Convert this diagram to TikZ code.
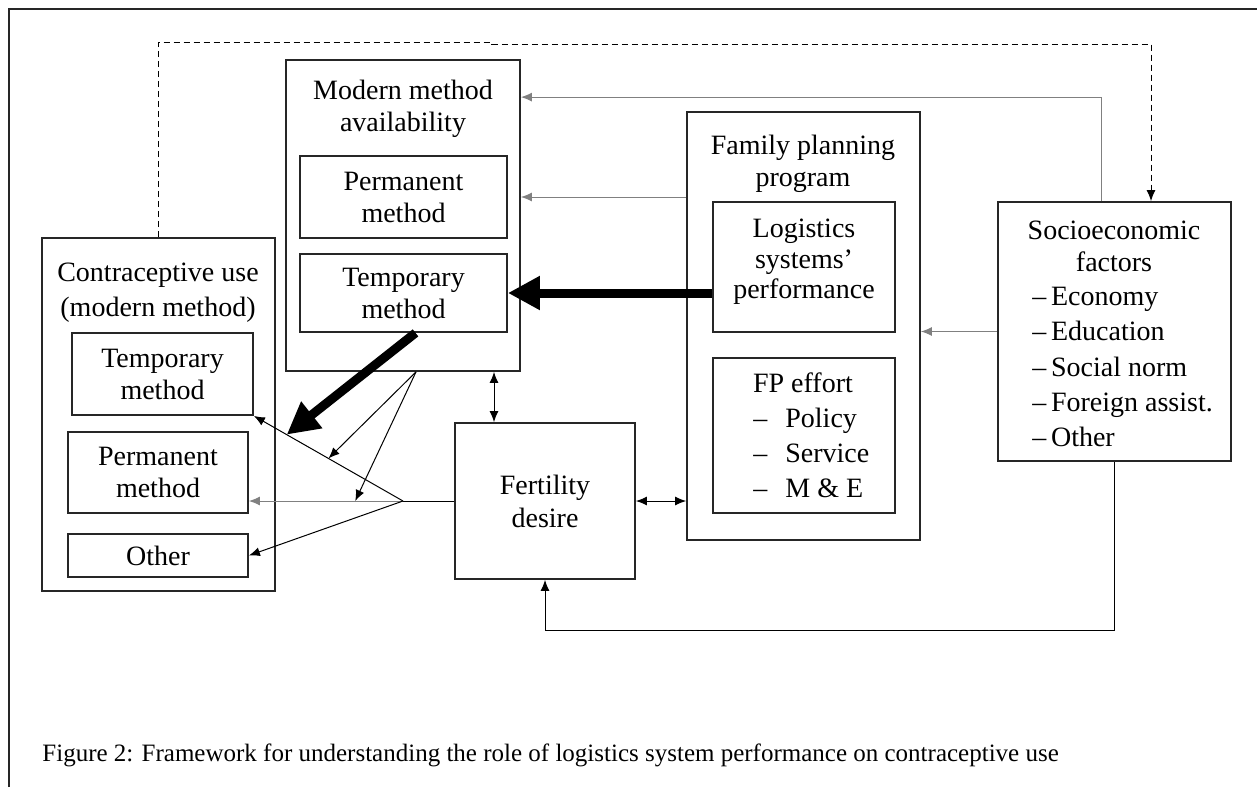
\documentclass[tikz,border=0pt]{standalone}
\usepackage{fontspec}
\setmainfont{Liberation Serif}
\usetikzlibrary{arrows.meta, positioning, fit, calc}
\tikzstyle{box} = [rectangle, draw=black!85, line width=0.9pt, inner sep=0pt, align=center]
\tikzstyle{boxtext} = [align=center, inner sep=0pt]
\tikzstyle{listtext} = [anchor=north west, align=left, inner sep=0pt]
\tikzstyle{arrow} = [line width=0.5pt, -{Latex[length=5.5pt,width=4.5pt]}]
\tikzstyle{twoway} = [line width=0.5pt, {Latex[length=5.5pt,width=4.5pt]}-{Latex[length=5.5pt,width=4.5pt]}]
\tikzstyle{grayarrow} = [arrow, draw=black!50]
\tikzstyle{bigarrow} = [line width=4.5pt, -{Triangle[length=16pt,width=16pt]}]
\tikzstyle{dasharrow} = [arrow, dash pattern=on 3pt off 2pt]

\begin{document}
\begin{tikzpicture}[x=0.5pt, y=-0.5pt, font=\fontsize{14}{16}\selectfont]
\useasboundingbox (0,0) rectangle (1257,787);
% frame of the figure
\draw [line width=1.4pt, black!85] (9,787) -- (9,9) -- (1257,9);

% contraceptive use
\node (cuse) [box, fit={(42,238) (275,591)}] {};
\node (cusetitle) [boxtext, font=\fontsize{14}{17.5}\selectfont] at (158,293) {Contraceptive use\\(modern method)};
\node (cusetemp) [box, minimum width=90.5pt, minimum height=41pt] at (162.5,374) {Temporary\\method};
\node (cuseperm) [box, minimum width=90pt, minimum height=40.5pt] at (158,472.5) {Permanent\\method};
\node (cuseother) [box, minimum width=90pt, minimum height=21.5pt] at (158,555.5) {Other};

% modern method availability
\node (modern) [box, fit={(286,60) (520,371)}] {};
\node (moderntitle) [boxtext] at (403,109) {Modern method\\availability};
\node (mperm) [box, minimum width=103.5pt, minimum height=41pt] at (403.5,197) {Permanent\\method};
\node (mtemp) [box, minimum width=103.5pt, minimum height=39pt] at (403.5,293) {Temporary\\method};

% family planning program
\node (fpp) [box, fit={(687,112) (920,540)}] {};
\node (fpptitle) [boxtext] at (803,164) {Family planning\\program};
\node (logi) [box, minimum width=91pt, minimum height=65pt] at (804,267) {};
\node (logitext) [boxtext, font=\fontsize{14}{15.3}\selectfont] at (804,262) {Logistics\\systems’\\performance};
\node (fpe) [box, fit={(713,358) (895,513)}] {};
\node (fpetitle) [boxtext] at (803,383) {FP effort};
\node (fpelist) [listtext, font=\fontsize{14}{17.5}\selectfont] at (753,408) {–\hspace{9pt}Policy\\–\hspace{9pt}Service\\–\hspace{9pt}M \& E};

% socioeconomic factors
\node (socio) [box, fit={(998,202) (1231,461)}] {};
\node (sociotitle) [boxtext] at (1114,246) {Socioeconomic\\factors};
\node (sociolist) [listtext, font=\fontsize{14}{17.6}\selectfont] at (1032,287) {–\,Economy\\–\,Education\\–\,Social norm\\–\,Foreign assist.\\–\,Other};

% fertility desire
\node (fert) [box, minimum width=90pt, minimum height=78pt, font=\fontsize{14}{16.5}\selectfont] at (545,501) {Fertility\\desire};

\node (caption) [anchor=west, inner sep=0pt, font=\fontsize{12.5}{15}\selectfont] at (42,755) {Figure 2: Framework for understanding the role of logistics system performance on contraceptive use};

\coordinate (hub) at (403,501);
\coordinate (moderndot) at ([xshift=6.5pt]modern.south);
\coordinate (fertdot) at ([xshift=-25.5pt]fert.north);

\draw [dasharrow] (cuse.north) -- ++(0,-195) -- ++(333,0) -- ++(0,2) -| ([xshift=18.25pt]socio.north);
\draw [grayarrow] ([xshift=-6.75pt]socio.north) |- ([yshift=-19pt]modern.north east);
\draw [grayarrow] (mperm.east -| fpp.west) -- (mperm.east -| modern.east);
\draw [grayarrow] (socio.west) -- (socio.west -| fpp.east);
\draw [bigarrow] (mtemp.east -| logi.west) -- (mtemp.east);
\draw [bigarrow] ([xshift=6pt]mtemp.south) -- ($(hub)!0.78!(cusetemp.south east)$);
\draw [arrow] (socio.south) -- ++(0,169) -| (fert.south);
\draw [twoway] (fertdot) -- (fertdot |- modern.south);
\draw [twoway] (fert.east) -- (fert.east -| fpp.west);

\draw [line width=0.5pt] (fert.west) -- (hub);
\draw [arrow] (hub) -- (cusetemp.south east);
\draw [grayarrow] (hub) -- (cuseperm.east |- hub);
\draw [arrow] (hub) -- (cuseother.east);
\draw [arrow] (moderndot) -- ($(hub)!0.5!(cusetemp.south east)$);
\draw [arrow] (moderndot) -- ($(hub)!0.31!(cuseperm.east |- hub)$);
\end{tikzpicture}
\end{document}
